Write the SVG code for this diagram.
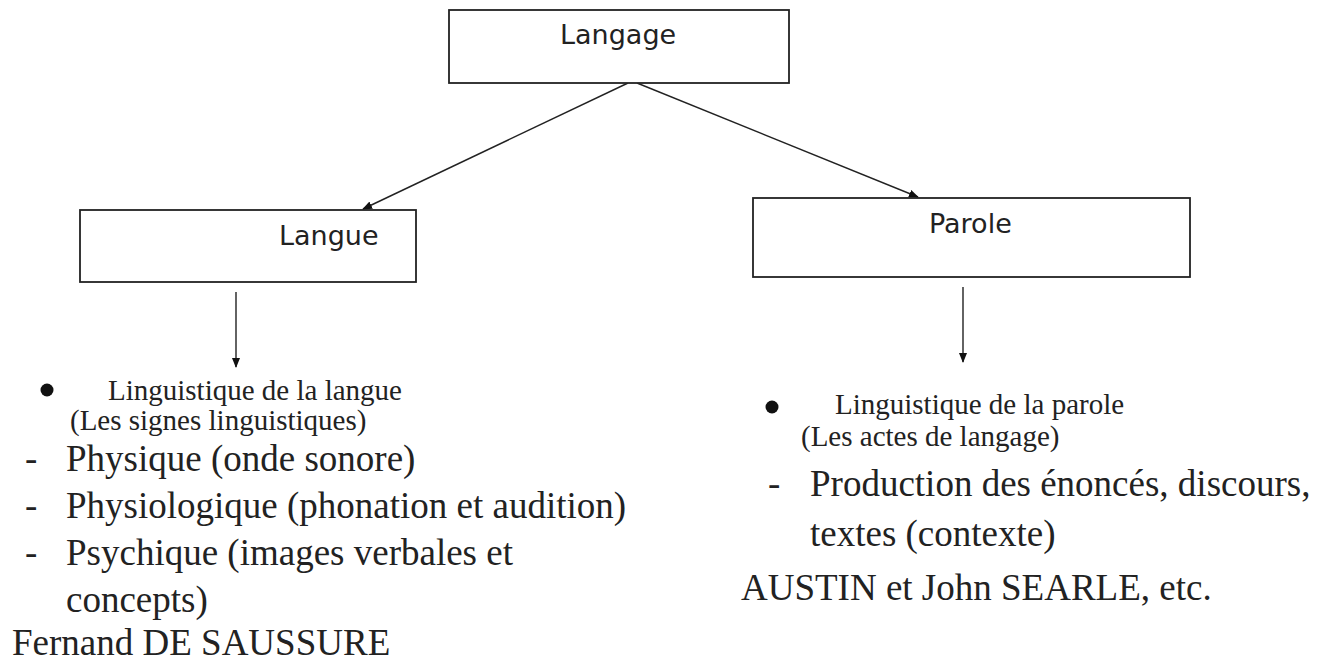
<svg xmlns="http://www.w3.org/2000/svg" width="1331" height="666" viewBox="0 0 1331 666">
<style>
.box{fill:#fff;stroke:#222;stroke-width:1.8}
.lbl{font-family:"DejaVu Sans",Verdana,sans-serif;font-size:27px;fill:#222}
.edge{stroke:#222;stroke-width:1.4;fill:none}
.s{font-family:"Liberation Serif","Times New Roman",serif;font-size:29px;fill:#222}
.b{font-family:"Liberation Serif","Times New Roman",serif;font-size:37px;fill:#222}
</style>
<defs>
<marker id="ah" markerWidth="10" markerHeight="8" refX="9" refY="4" orient="auto" markerUnits="userSpaceOnUse">
<path d="M0,0 L10,4 L0,8 Z" fill="#111"/>
</marker>
</defs>
<rect width="1331" height="666" fill="#fff"/>
<g id="connectors">
<line class="edge" x1="628" y1="83" x2="363" y2="209" marker-end="url(#ah)"/>
<line class="edge" x1="637" y1="83" x2="918" y2="197" marker-end="url(#ah)"/>
<line class="edge" x1="236" y1="292" x2="236" y2="367" marker-end="url(#ah)"/>
<line class="edge" x1="963" y1="287" x2="963" y2="362" marker-end="url(#ah)"/>
</g>
<g id="node-langage">
<rect class="box" x="449" y="10" width="340" height="73"/>
<text class="lbl" x="560" y="44">Langage</text>
</g>
<g id="node-langue">
<rect class="box" x="80" y="210" width="336" height="72"/>
<text class="lbl" x="279" y="245">Langue</text>
</g>
<g id="node-parole">
<rect class="box" x="753" y="198" width="437" height="79"/>
<text class="lbl" x="929" y="233">Parole</text>
</g>
<g id="text-langue">
<circle cx="47" cy="390" r="6.5" fill="#111"/>
<text class="s" x="108" y="400">Linguistique de la langue</text>
<text class="s" x="70" y="430">(Les signes linguistiques)</text>
<text class="b" x="25" y="471">-</text>
<text class="b" x="66" y="471">Physique (onde sonore)</text>
<text class="b" x="25" y="518">-</text>
<text class="b" x="66" y="518">Physiologique (phonation et audition)</text>
<text class="b" x="25" y="565">-</text>
<text class="b" x="66" y="565">Psychique (images verbales et</text>
<text class="b" x="66" y="612">concepts)</text>
<text class="b" x="12" y="655">Fernand DE SAUSSURE</text>
</g>
<g id="text-parole">
<circle cx="772" cy="407" r="6.5" fill="#111"/>
<text class="s" x="835" y="414">Linguistique de la parole</text>
<text class="s" x="801" y="446">(Les actes de langage)</text>
<text class="b" x="768" y="496">-</text>
<text class="b" x="810" y="496">Production des énoncés, discours,</text>
<text class="b" x="810" y="546">textes (contexte)</text>
<text class="b" x="741" y="600">AUSTIN et John SEARLE, etc.</text>
</g>
</svg>
